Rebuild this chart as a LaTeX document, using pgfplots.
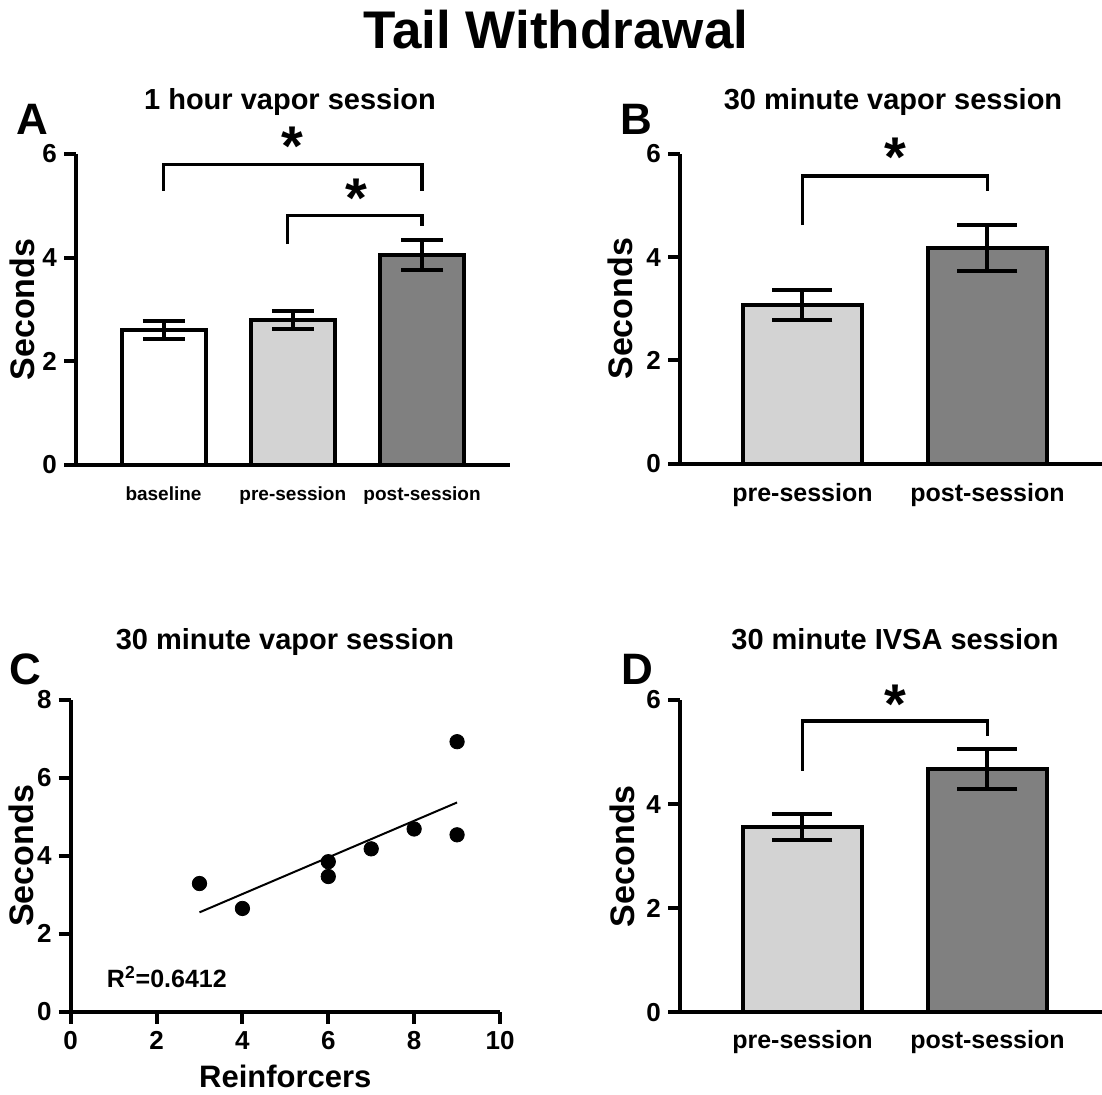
\documentclass[border=0pt]{standalone}
\usepackage{fontspec}
\setmainfont{Liberation Sans}
\usepackage{pgfplots}
\pgfplotsset{compat=1.18}
\definecolor{lightbar}{RGB}{211,211,211}
\definecolor{darkbar}{RGB}{128,128,128}
\newcommand{\fs}[1]{\fontsize{#1}{#1}\selectfont}
\pgfplotsset{
  gp/.style={
    scale only axis, anchor=south west,
    axis lines=left, axis line style={line width=2pt,-},
    tick align=outside, major tick length=6pt,
    every tick/.style={line width=2pt,black},
    tick label style={font=\bfseries\fs{13}},
    /pgf/number format/assume math mode=true,
    ylabel style={font=\bfseries\fs{17}, anchor=center},
    clip=false,
  },
  gpbar/.style={
    gp, ymin=0, ymax=6, ytick={0,2,4,6},
    xtick style={draw=none},
    error bars/error bar style={line width=2pt,black},
    error bars/error mark=|,
  },
}
\begin{document}
\begin{tikzpicture}
\path[use as bounding box] (0,0) rectangle (551pt,547pt);
\node[font=\bfseries\fs{26.5}] at (278pt,532pt) {Tail Withdrawal};
\node[font=\bfseries\fs{14.5},anchor=base] at (145pt,492pt) {1 hour vapor session};
\node[font=\bfseries\fs{14.5},anchor=base] at (446.5pt,492pt) {30 minute vapor session};
\node[font=\bfseries\fs{14.5},anchor=base] at (142.5pt,222.5pt) {30 minute vapor session};
\node[font=\bfseries\fs{14.5},anchor=base] at (447.5pt,222.5pt) {30 minute IVSA session};
\node[font=\bfseries\fs{22},anchor=base] at (16pt,479.5pt) {A};
\node[font=\bfseries\fs{22},anchor=base] at (318pt,479.5pt) {B};
\node[font=\bfseries\fs{22},anchor=base] at (12.5pt,205pt) {C};
\node[font=\bfseries\fs{22},anchor=base] at (318.5pt,205pt) {D};

% Panel A
\begin{axis}[gpbar, at={(38pt,314.5pt)}, width=217pt, height=155.5pt,
  xmin=0.323, xmax=3.68, xtick={1,2,3},
  xticklabels={baseline,pre-session,post-session},
  x tick label style={font=\bfseries\fs{9.5}, anchor=base, yshift=-11.5pt},
  ylabel={Seconds}, ylabel style={at={([xshift=-27pt]axis description cs:0,0.5)}},
  error bars/error mark options={line width=2pt,black,mark size=10.5pt},
  ]
\addplot[ybar, bar width=0.65, bar shift=0pt, draw=black, line width=2pt, fill=white,
  error bars/.cd, y dir=both, y explicit] coordinates {(1,2.61) +- (0,0.175)};
\addplot[ybar, bar width=0.65, bar shift=0pt, draw=black, line width=2pt, fill=lightbar,
  error bars/.cd, y dir=both, y explicit] coordinates {(2,2.80) +- (0,0.17)};
\addplot[ybar, bar width=0.65, bar shift=0pt, draw=black, line width=2pt, fill=darkbar,
  error bars/.cd, y dir=both, y explicit] coordinates {(3,4.06) +- (0,0.29)};
\draw[line width=1.8pt] (axis cs:1,5.29) -- (axis cs:1,5.80) -- (axis cs:3,5.80) -- (axis cs:3,5.29);
\draw[line width=1.8pt] (axis cs:1.96,4.26) -- (axis cs:1.96,4.81) -- (axis cs:3,4.81) -- (axis cs:3,4.62);
\node[font=\bfseries\fs{28}, yshift=-3.5pt] at (axis cs:2,6.29) {*};
\node[font=\bfseries\fs{28}, yshift=-3.5pt] at (axis cs:2.495,5.29) {*};
\end{axis}

% Panel B
\begin{axis}[gpbar, at={(340pt,315.25pt)}, width=211pt, height=154.75pt,
  xmin=0.338, xmax=2.619, xtick={1,2},
  xticklabels={pre-session,post-session},
  x tick label style={font=\bfseries\fs{12.5}, anchor=base, yshift=-13pt},
  ylabel={Seconds}, ylabel style={at={([xshift=-30pt]axis description cs:0,0.5)}},
  error bars/error mark options={line width=2pt,black,mark size=15pt},
  ]
\addplot[ybar, bar width=0.643, bar shift=0pt, draw=black, line width=2pt, fill=lightbar,
  error bars/.cd, y dir=both, y explicit] coordinates {(1,3.08) +- (0,0.29)};
\addplot[ybar, bar width=0.643, bar shift=0pt, draw=black, line width=2pt, fill=darkbar,
  error bars/.cd, y dir=both, y explicit] coordinates {(2,4.18) +- (0,0.45)};
\draw[line width=1.8pt] (axis cs:1,4.62) -- (axis cs:1,5.57) -- (axis cs:2,5.57) -- (axis cs:2,5.28);
\node[font=\bfseries\fs{28}, yshift=-3.5pt] at (axis cs:1.5,6.07) {*};
\end{axis}

% Panel C
\begin{axis}[gp, at={(35.35pt,41.15pt)}, width=214.65pt, height=155.85pt,
  xmin=0, xmax=10, ymin=0, ymax=8, xtick={0,2,...,10}, ytick={0,2,...,8},
  x tick label style={anchor=base, yshift=-13pt},
  ylabel={Seconds}, ylabel style={at={([xshift=-24.5pt]axis description cs:0,0.5)}},
  xlabel={Reinforcers}, xlabel style={font=\bfseries\fs{15.5}, anchor=center, at={([yshift=-32.5pt]axis description cs:0.5,0)}},
  ]
\addplot[only marks, mark=*, mark size=3.6pt, black] coordinates {
  (3,3.29) (4,2.65) (6,3.85) (6,3.47) (7,4.18) (8,4.69) (9,6.93) (9,4.54)};
\addplot[black, line width=1pt] coordinates {(3,2.55) (9,5.37)};
\node[anchor=west, font=\bfseries\fs{12.5}] at (axis cs:0.68,0.89) {R\textsuperscript{2}=0.6412};
\end{axis}

% Panel D
\begin{axis}[gpbar, at={(340pt,40.85pt)}, width=211pt, height=156.15pt,
  xmin=0.338, xmax=2.619, xtick={1,2},
  xticklabels={pre-session,post-session},
  x tick label style={font=\bfseries\fs{12.5}, anchor=base, yshift=-12pt},
  ylabel={Seconds}, ylabel style={at={([xshift=-29pt]axis description cs:0,0.5)}},
  error bars/error mark options={line width=2pt,black,mark size=15pt},
  ]
\addplot[ybar, bar width=0.643, bar shift=0pt, draw=black, line width=2pt, fill=lightbar,
  error bars/.cd, y dir=both, y explicit] coordinates {(1,3.56) +- (0,0.245)};
\addplot[ybar, bar width=0.643, bar shift=0pt, draw=black, line width=2pt, fill=darkbar,
  error bars/.cd, y dir=both, y explicit] coordinates {(2,4.67) +- (0,0.385)};
\draw[line width=1.8pt] (axis cs:1,4.64) -- (axis cs:1,5.60) -- (axis cs:2,5.60) -- (axis cs:2,5.31);
\node[font=\bfseries\fs{28}, yshift=-3.5pt] at (axis cs:1.5,6.06) {*};
\end{axis}
\end{tikzpicture}
\end{document}
